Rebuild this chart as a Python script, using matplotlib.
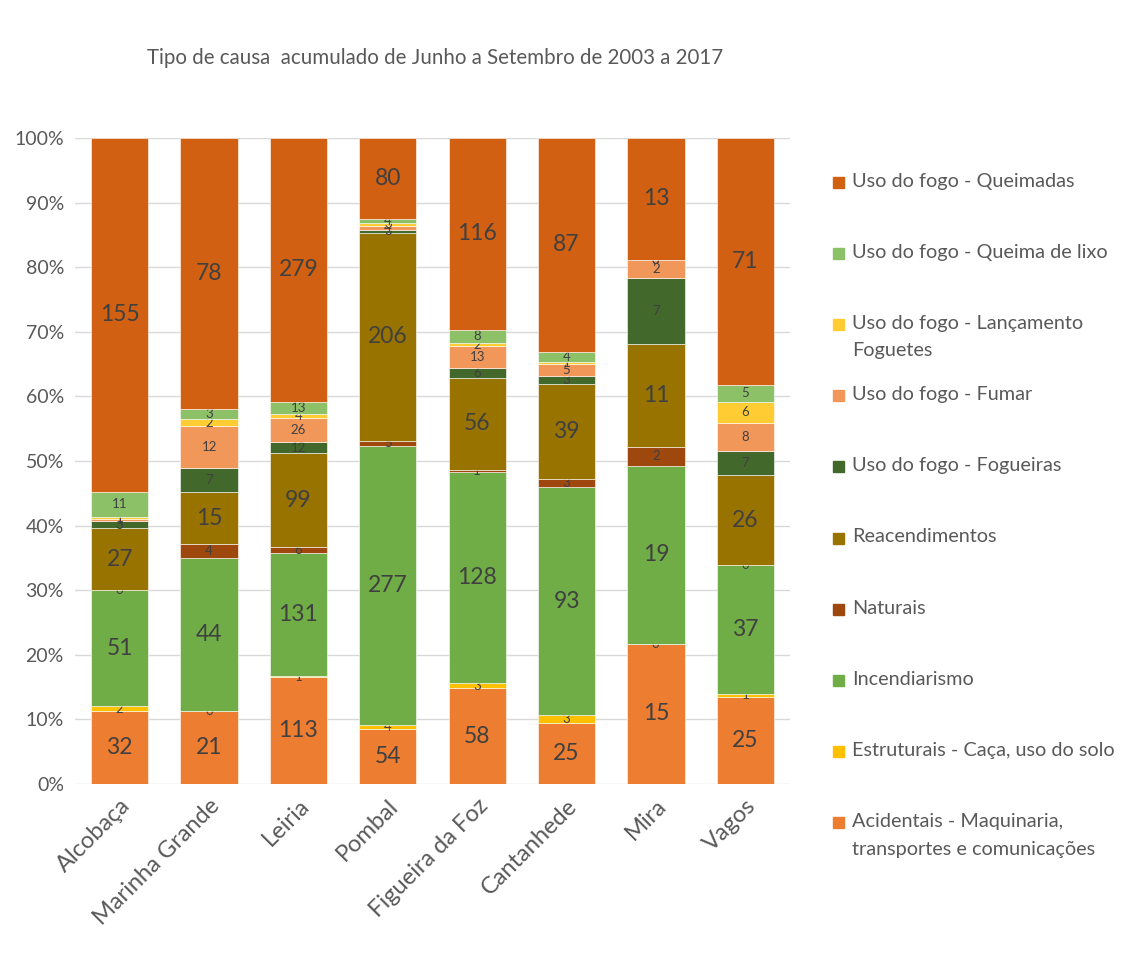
import matplotlib
matplotlib.use("Agg")
import matplotlib.pyplot as plt
from matplotlib.patches import Rectangle
import matplotlib.transforms as mtransforms
import numpy as np

plt.rcParams['font.family'] = ['Lato', 'DejaVu Sans']

# concelhos
concelhos = ["Alcobaça", "Marinha Grande", "Leiria", "Pombal",
             "Figueira da Foz", "Cantanhede", "Mira", "Vagos"]

# causas (de baixo para cima)
acidentais = [32, 21, 113, 54, 58, 25, 15, 25]
estruturais = [2, 0, 1, 4, 3, 3, 0, 1]
incendiarismo = [51, 44, 131, 277, 128, 93, 19, 37]
naturais = [0, 4, 6, 5, 1, 3, 2, 0]
reacendimentos = [27, 15, 99, 206, 56, 39, 11, 26]
fogueiras = [3, 7, 12, 3, 6, 3, 7, 7]
fumar = [1, 12, 26, 4, 13, 5, 2, 8]
foguetes = [1, 2, 4, 3, 2, 1, 0, 6]
queima_lixo = [11, 3, 13, 4, 8, 4, 0, 5]
queimadas = [155, 78, 279, 80, 116, 87, 13, 71]

nomes = ["Acidentais - Maquinaria,\ntransportes e comunicações",
         "Estruturais - Caça, uso do solo",
         "Incendiarismo",
         "Naturais",
         "Reacendimentos",
         "Uso do fogo - Fogueiras",
         "Uso do fogo - Fumar",
         "Uso do fogo - Lançamento\nFoguetes",
         "Uso do fogo - Queima de lixo",
         "Uso do fogo - Queimadas"]
series = [acidentais, estruturais, incendiarismo, naturais, reacendimentos,
          fogueiras, fumar, foguetes, queima_lixo, queimadas]
cores = ["#ED7D31", "#FFC000", "#70AD47", "#9E480E", "#997300",
         "#43682B", "#F1975A", "#FFCD33", "#8CC168", "#D26012"]
grande = [True, False, True, False, True, False, False, False, False, True]

W, H = 1141, 969
fig = plt.figure(figsize=(W / 100, H / 100), dpi=100)
ax = fig.add_axes([75 / W, 1 - 784 / H, 715 / W, 646 / H])

dados = np.array(series, dtype=float)
totais = dados.sum(axis=0)
frac = dados / totais
x = np.arange(len(concelhos))
base = np.zeros(len(concelhos))
for i in range(len(series)):
    bars = ax.bar(x, frac[i], 0.64, bottom=base, color=cores[i],
                  edgecolor="white", linewidth=0.4, zorder=3)
    ax.bar_label(bars, labels=[str(v) for v in series[i]], label_type="center",
                 fontsize=16.5 if grande[i] else 9.5, color="#404040")
    base += frac[i]

ax.set_xlim(-0.5, len(concelhos) - 0.5)
ax.set_ylim(0, 1)
ax.set_yticks(np.arange(0, 1.01, 0.1))
ax.set_yticklabels([f"{int(round(v * 100))}%" for v in np.arange(0, 1.01, 0.1)],
                   fontsize=14, color="#595959")
ax.set_xticks(x)
ax.set_xticklabels(concelhos, rotation=45, ha="right", rotation_mode="anchor",
                   fontsize=17, color="#595959")
desloc = mtransforms.ScaledTranslation(0.17, 0, fig.dpi_scale_trans)
for lab in ax.get_xticklabels():
    lab.set_transform(lab.get_transform() + desloc)
ax.tick_params(length=0, pad=8)
ax.tick_params(axis="x", pad=8)
ax.grid(axis="y", color="#D9D9D9", linewidth=1, zorder=0)
for s in ax.spines.values():
    s.set_visible(False)

fig.text(435 / W, 1 - 58 / H,
         "Tipo de causa  acumulado de Junho a Setembro de 2003 a 2017",
         ha="center", va="center", fontsize=14.8, color="#595959")

# legenda (ordem inversa, espaçamento fixo)
y0 = 182
for k, i in enumerate(range(len(series) - 1, -1, -1)):
    yc = y0 + k * 71.2
    fig.add_artist(Rectangle(((833) / W, 1 - (yc + 5.5) / H), 11 / W, 11 / H,
                             transform=fig.transFigure, color=cores[i]))
    fig.text(852 / W, 1 - (yc - 9.5) / H, nomes[i], ha="left", va="top",
             fontsize=14.3, color="#595959", linespacing=1.75)

fig.savefig("out.png", dpi=100)
